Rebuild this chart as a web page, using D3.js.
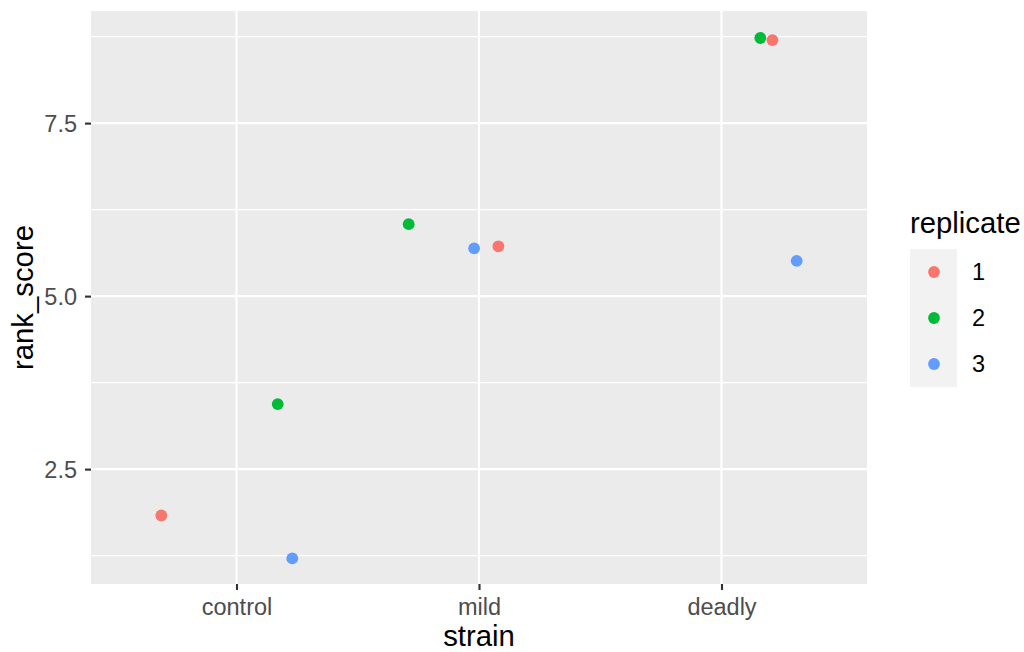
<!DOCTYPE html>
<html>
<head>
<meta charset="utf-8">
<script src="https://cdn.jsdelivr.net/npm/d3@7"></script>
<style>
  body { margin: 0; background: #fff; }
  svg text { font-family: "Liberation Sans", Arial, sans-serif; }
</style>
</head>
<body>
<div id="chart"></div>
<script>
// data
let strains = ['control', 'mild', 'deadly'];
let replicates = ['1', '2', '3'];
let pointStrain = ['control', 'control', 'control', 'mild', 'mild', 'mild', 'deadly', 'deadly', 'deadly'];
let pointReplicate = ['1', '2', '3', '1', '2', '3', '1', '2', '3'];
// horizontal jitter, in category units
let pointJitter = [-0.31, 0.17, 0.23, 0.08, -0.29, -0.02, 0.21, 0.16, 0.31];
let pointScore = [1.83, 3.44, 1.21, 5.72, 6.04, 5.69, 8.70, 8.73, 5.51];
let yTicks = [2.5, 5.0, 7.5];
let yMinor = [1.25, 3.75, 6.25, 8.75];
let colours = ['#F8766D', '#00BA38', '#619CFF'];

let width = 1024, height = 652;
let panel = { left: 91, right: 867, top: 11, bottom: 584 };
let tickFont = '23.5px', titleFont = '29.3px';

let svg = d3.select('#chart')
    .append('svg')
    .attr('width', width)
    .attr('height', height);

let x = d3.scaleLinear()
    .domain([0.4, 3.6])
    .range([panel.left, panel.right]);

let y = d3.scaleLinear()
    .domain([0.84, 9.12])
    .range([panel.bottom, panel.top]);

let colour = d3.scaleOrdinal()
    .domain(replicates)
    .range(colours);

// panel background
svg.append('rect')
    .attr('x', panel.left)
    .attr('y', panel.top)
    .attr('width', panel.right - panel.left)
    .attr('height', panel.bottom - panel.top)
    .attr('fill', '#EBEBEB');

// minor grid
svg.append('g')
    .selectAll('line')
    .data(yMinor)
    .enter()
    .append('line')
    .attr('x1', panel.left).attr('x2', panel.right)
    .attr('y1', d => y(d)).attr('y2', d => y(d))
    .attr('stroke', '#fff')
    .attr('stroke-width', 1.07);

// major grid
svg.append('g')
    .selectAll('line')
    .data(yTicks)
    .enter()
    .append('line')
    .attr('x1', panel.left).attr('x2', panel.right)
    .attr('y1', d => y(d)).attr('y2', d => y(d))
    .attr('stroke', '#fff')
    .attr('stroke-width', 2.13);

svg.append('g')
    .selectAll('line')
    .data(strains)
    .enter()
    .append('line')
    .attr('x1', (d, i) => x(i + 1)).attr('x2', (d, i) => x(i + 1))
    .attr('y1', panel.top).attr('y2', panel.bottom)
    .attr('stroke', '#fff')
    .attr('stroke-width', 2.13);

// axes
let yAxis = d3.axisLeft(y)
    .tickValues(yTicks)
    .tickFormat(d3.format('.1f'))
    .tickSize(6)
    .tickPadding(8);

let yg = svg.append('g')
    .attr('transform', 'translate(' + panel.left + ',0)')
    .call(yAxis);

let xAxis = d3.axisBottom(x)
    .tickValues([1, 2, 3])
    .tickFormat(d => strains[d - 1])
    .tickSize(6)
    .tickPadding(8);

let xg = svg.append('g')
    .attr('transform', 'translate(0,' + panel.bottom + ')')
    .call(xAxis);

[yg, xg].forEach(function(g) {
    g.select('.domain').remove();
    g.selectAll('.tick line')
        .attr('stroke', '#333333')
        .attr('stroke-width', 2.13);
    g.selectAll('.tick text')
        .attr('fill', '#4D4D4D')
        .style('font-size', tickFont);
});
yg.selectAll('.tick text').attr('dy', '0.36em');
xg.selectAll('.tick text').attr('dy', '0.72em');

// axis titles
svg.append('text')
    .attr('x', (panel.left + panel.right) / 2)
    .attr('y', 646)
    .attr('text-anchor', 'middle')
    .style('font-size', titleFont)
    .attr('fill', '#000')
    .text('strain');

svg.append('text')
    .attr('transform', 'translate(33,' + ((panel.top + panel.bottom) / 2) + ') rotate(-90)')
    .attr('text-anchor', 'middle')
    .style('font-size', titleFont)
    .attr('fill', '#000')
    .text('rank_score');

// points
svg.append('g')
    .selectAll('circle')
    .data(pointScore)
    .enter()
    .append('circle')
    .attr('cx', (d, i) => x(strains.indexOf(pointStrain[i]) + 1 + pointJitter[i]))
    .attr('cy', d => y(d))
    .attr('r', 5.9)
    .attr('fill', (d, i) => colour(pointReplicate[i]));

// legend
let legend = svg.append('g')
    .attr('transform', 'translate(910,0)');

legend.append('text')
    .attr('x', 0)
    .attr('y', 233)
    .style('font-size', titleFont)
    .attr('fill', '#000')
    .text('replicate');

legend.append('rect')
    .attr('x', 0)
    .attr('y', 249)
    .attr('width', 47)
    .attr('height', 138)
    .attr('fill', '#F2F2F2');

let keys = legend.selectAll('.key')
    .data(replicates)
    .enter()
    .append('g')
    .attr('class', 'key')
    .attr('transform', (d, i) => 'translate(0,' + (272 + i * 46) + ')');

keys.append('circle')
    .attr('cx', 24)
    .attr('cy', 0)
    .attr('r', 5.9)
    .attr('fill', d => colour(d));

keys.append('text')
    .attr('x', 62)
    .attr('y', 0)
    .attr('dy', '0.36em')
    .style('font-size', tickFont)
    .attr('fill', '#000')
    .text(d => d);
</script>
</body>
</html>
